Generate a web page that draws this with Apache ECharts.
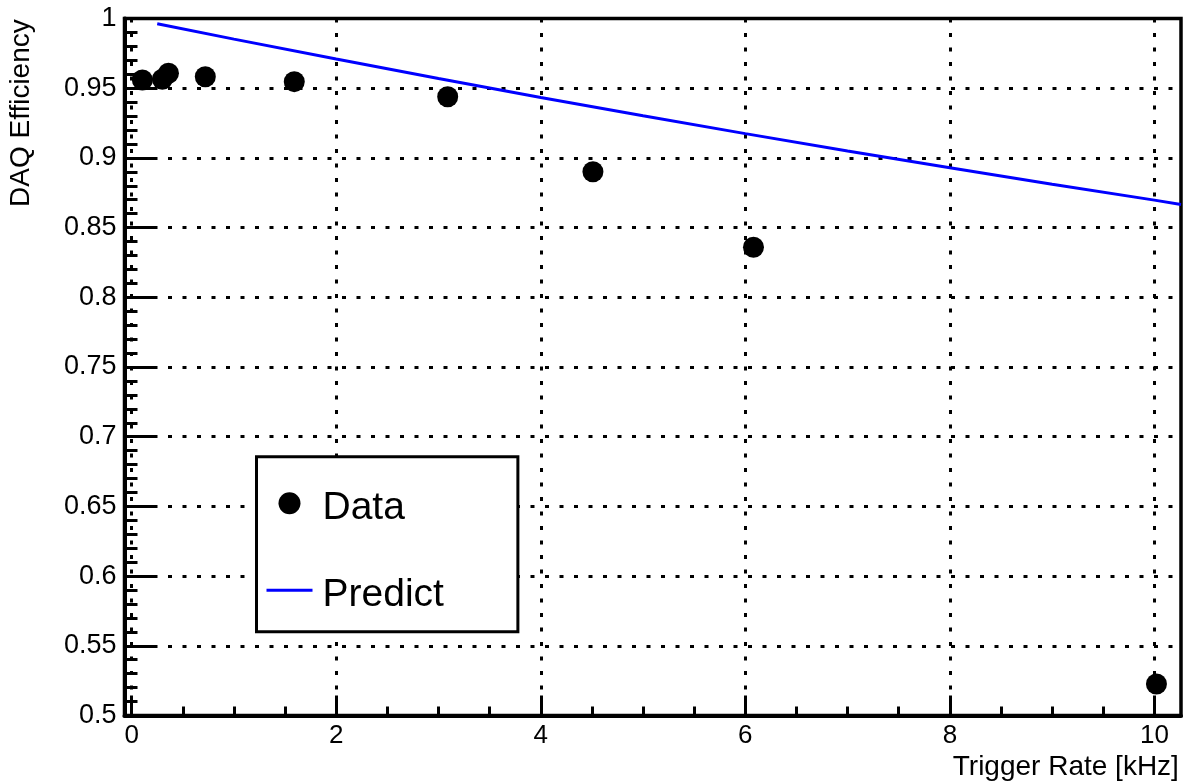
<!DOCTYPE html>
<html>
<head>
<meta charset="utf-8">
<title>DAQ Efficiency vs Trigger Rate</title>
<script src="https://cdn.jsdelivr.net/npm/echarts@6/dist/echarts.min.js"></script>
<style>
  html, body { margin: 0; padding: 0; background: #fff; }
  #chart { width: 1183px; height: 783px; }
</style>
</head>
<body>
<div id="chart"></div>
<script>
// Measured DAQ efficiency at each trigger rate (kHz)
const rateData = [0.105, 0.30, 0.36, 0.72, 1.59, 3.09, 4.51, 6.08, 10.02];
const effData  = [0.9559, 0.9564, 0.9607, 0.9582, 0.9547, 0.9439, 0.8901, 0.8359, 0.5226];

// Predicted efficiency curve
const predRate = [0.25, 1, 2, 3, 4, 5, 6, 7, 8, 9, 10, 10.26];
const predEff  = [0.9963, 0.9852, 0.9709, 0.9569, 0.9434, 0.9302, 0.9174, 0.9050, 0.8929, 0.8811, 0.8697, 0.8666];

// Axis ticks
const xMajorTicks = [0, 2, 4, 6, 8, 10];
const xMinorTicks = [0.5, 1, 1.5, 2.5, 3, 3.5, 4.5, 5, 5.5, 6.5, 7, 7.5, 8.5, 9, 9.5];

const FONT = '"Liberation Sans", Arial, Helvetica, sans-serif';
const xRange = [-0.07, 10.26];
const yRange = [0.5, 1.0];

const dotted = { color: '#000', width: 3, type: [4, 10.5] };

const chart = echarts.init(document.getElementById('chart'), null, { renderer: 'canvas' });

chart.setOption({
  backgroundColor: '#fff',
  animation: false,
  textStyle: { fontFamily: FONT, color: '#000' },
  grid: {
    left: 124.5, top: 18.5, right: 2, bottom: 67.5,
    containLabel: false,
    outerBoundsMode: 'none',
    show: true,
    borderColor: '#000',
    borderWidth: 3.5,
    backgroundColor: 'transparent'
  },
  legend: {
    orient: 'vertical',
    left: 256.5,
    top: 456.7,
    itemWidth: 46,
    itemHeight: 22,
    itemGap: 37,
    padding: [21.5, 74, 16.5, 10],
    backgroundColor: '#fff',
    borderColor: '#000',
    borderWidth: 3,
    borderRadius: 0,
    selectedMode: false,
    formatter: '{t|{name}}',
    textStyle: {
      fontFamily: FONT, fontSize: 39, color: '#000',
      rich: {
        t: {
          fontFamily: FONT, fontSize: 39, lineHeight: 40, color: '#000',
          padding: [11, 0, 0, 5]
        }
      }
    },
    data: [
      { name: 'Data', icon: 'circle' },
      // plain line sample for the prediction curve
      { name: 'Predict', icon: 'path://M0,0H46V3H0Z' }
    ]
  },
  xAxis: [
    {
      type: 'value',
      min: xRange[0], max: xRange[1],
      position: 'bottom',
      name: 'Trigger Rate [kHz]',
      nameLocation: 'middle',
      nameGap: 38,
      nameMoveOverlap: false,
      nameTextStyle: {
        fontFamily: FONT, fontSize: 28, color: '#000',
        align: 'left', verticalAlign: 'top', lineHeight: 28,
        padding: [0, 0, 0, 300]
      },
      axisLine: { show: true, onZero: false, lineStyle: { color: '#000', width: 4 } },
      axisTick: {
        show: true, inside: true, length: 20,
        customValues: xMajorTicks,
        lineStyle: { color: '#000', width: 3 }
      },
      axisLabel: {
        show: true, margin: 7,
        customValues: xMajorTicks,
        fontFamily: FONT, fontSize: 26, color: '#000', lineHeight: 26
      },
      splitLine: { show: true, lineStyle: dotted },
      minorTick: { show: false },
      minorSplitLine: { show: false }
    },
    {
      type: 'value',
      min: xRange[0], max: xRange[1],
      position: 'bottom',
      axisLine: { show: false, onZero: false },
      axisTick: {
        show: true, inside: true, length: 9,
        customValues: xMinorTicks,
        lineStyle: { color: '#000', width: 3 }
      },
      axisLabel: { show: false },
      splitLine: { show: false }
    }
  ],
  yAxis: {
    type: 'value',
    min: yRange[0], max: yRange[1],
    interval: 0.05,
    name: 'DAQ Efficiency',
    nameLocation: 'middle',
    nameGap: 89,
    nameRotate: 90,
    nameMoveOverlap: false,
    nameTextStyle: {
      fontFamily: FONT, fontSize: 28, color: '#000',
      align: 'left', verticalAlign: 'bottom', lineHeight: 28,
      padding: [0, 0, 0, 160]
    },
    axisLine: { show: true, onZero: false, lineStyle: { color: '#000', width: 4 } },
    axisTick: { show: true, inside: true, length: 30, lineStyle: { color: '#000', width: 3 } },
    minorTick: { show: true, splitNumber: 5, length: 13, lineStyle: { color: '#000', width: 3 } },
    axisLabel: {
      show: true, margin: 8,
      fontFamily: FONT, fontSize: 27, color: '#000'
    },
    splitLine: { show: true, lineStyle: dotted }
  },
  series: [
    {
      name: 'Predict',
      type: 'line',
      xAxisIndex: 0,
      data: predRate.map((r, i) => [r, predEff[i]]),
      symbol: 'none',
      smooth: false,
      lineStyle: { color: '#0000ff', width: 3 },
      itemStyle: { color: '#0000ff' },
      z: 3
    },
    {
      name: 'Data',
      type: 'scatter',
      xAxisIndex: 0,
      data: rateData.map((r, i) => [r, effData[i]]),
      symbol: 'circle',
      symbolSize: 21,
      itemStyle: { color: '#000', opacity: 1 },
      z: 4
    }
  ]
});
</script>
</body>
</html>
